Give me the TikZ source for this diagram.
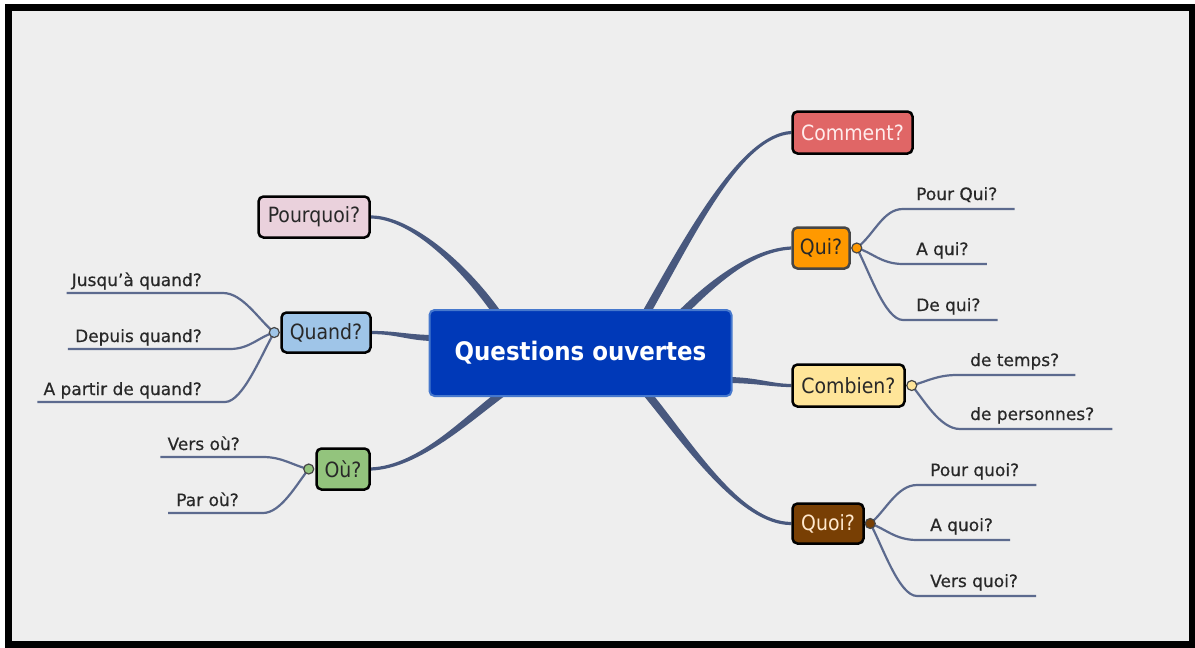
\documentclass[tikz,border=0pt]{standalone}
\usepackage{fontspec}
\setmainfont{DejaVu Sans}
\newfontfamily\condfont{DejaVu Sans Condensed}
\newfontfamily\subfont[FakeBold=0.5,Ligatures=TeX]{DejaVu Sans}
\usetikzlibrary{calc,backgrounds}
\pgfdeclarelayer{frame}
\pgfsetlayers{frame,background,main}
\definecolor{bgc}{RGB}{238,238,238}
\definecolor{branchc}{RGB}{72,88,126}
\definecolor{subc}{RGB}{92,106,142}
\definecolor{centerc}{RGB}{0,57,184}
\definecolor{centerb}{RGB}{70,120,205}
\definecolor{commentc}{RGB}{224,102,102}
\definecolor{commentt}{RGB}{255,236,236}
\definecolor{quic}{RGB}{255,153,0}
\definecolor{quib}{RGB}{70,70,70}
\definecolor{combienc}{RGB}{255,229,153}
\definecolor{quoic}{RGB}{120,63,4}
\definecolor{quoit}{RGB}{255,232,205}
\definecolor{pourquoic}{RGB}{234,209,220}
\definecolor{quandc}{RGB}{159,197,232}
\definecolor{ouc}{RGB}{147,196,125}
\definecolor{txtc}{RGB}{40,40,40}
\definecolor{dotb}{RGB}{70,70,70}
\newcommand\mmbranch[6]{%
  \fill[branchc] ($(#1)+(#5)$) .. controls ($(#1)+(#3)+(#5)$) and ($(#2)+(#4)+(#6)$) .. ($(#2)+(#6)$)
    -- ($(#2)-(#6)$) .. controls ($(#2)+(#4)-(#6)$) and ($(#1)+(#3)-(#5)$) .. ($(#1)-(#5)$) -- cycle;}
\begin{document}
\begin{tikzpicture}[x=1pt,y=-1pt,
  box/.style={rectangle, rounded corners=5pt, line width=2.5pt, draw=black, inner sep=0pt,
    text=txtc, font=\condfont\fontsize{21}{25}\selectfont},
  dot/.style={circle, minimum size=10pt, inner sep=0pt, draw=dotb, line width=1.2pt},
  sub/.style={draw=subc, line width=2.2pt},
  sublbl/.style={inner sep=0pt, text=txtc, font=\subfont\fontsize{17}{20}\selectfont}]
\useasboundingbox (0,0) rectangle (1195,648);
\begin{pgfonlayer}{frame}
\fill[white] (0,0) rectangle (1195,648);
\draw[line width=7pt, fill=bgc] (8.5,7.5) rectangle (1192,644.5);
\end{pgfonlayer}

% central and main nodes
\node[box, fill=centerc, draw=centerb, line width=2pt, text=white, minimum width=302pt, minimum height=86pt,
  font=\condfont\bfseries\fontsize{25.5}{30}\selectfont] (c) at (580.5,353) {Questions ouvertes};
\node[box, fill=commentc, text=commentt, minimum width=120pt, minimum height=42pt] (comment) at (852.5,132.5) {Comment?};
\node[box, fill=quic, draw=quib, minimum width=57pt, minimum height=41pt] (qui) at (821,248) {Qui?};
\node[box, fill=combienc, minimum width=112pt, minimum height=42pt] (combien) at (848.5,385.5) {Combien?};
\node[box, fill=quoic, text=quoit, minimum width=71pt, minimum height=40pt] (quoi) at (828,523.5) {Quoi?};
\node[box, fill=pourquoic, minimum width=111pt, minimum height=41pt] (pourquoi) at (314,217) {Pourquoi?};
\node[box, fill=quandc, minimum width=89pt, minimum height=40pt] (quand) at (326,332.5) {Quand?};
\node[box, fill=ouc, minimum width=53pt, minimum height=41pt] (ou) at (343,469) {Où?};

% dots
\node[dot, fill=quic] (quid) at ($(qui.east)+(6,0)$) {};
\node[dot, fill=combienc] (combiend) at ($(combien.east)+(6,0)$) {};
\node[dot, fill=quoic] (quoid) at ($(quoi.east)+(5.5,0)$) {};
\node[dot, fill=quandc] (quandd) at ($(quand.west)+(-6,0)$) {};
\node[dot, fill=ouc] (oud) at ($(ou.west)+(-6.5,0)$) {};

% underline inner ends
\coordinate (qui1) at (903,209);
\coordinate (qui2) at (903,264);
\coordinate (qui3) at (903,320);
\coordinate (com1) at (957,375);
\coordinate (com2) at (960,429);
\coordinate (quo1) at (917,485);
\coordinate (quo2) at (917,540);
\coordinate (quo3) at (917,596);
\coordinate (qua1) at (223,293);
\coordinate (qua2) at (230,349);
\coordinate (qua3) at (225,402);
\coordinate (ou1) at (263,457);
\coordinate (ou2) at (263,513);

% sub labels
\node[sublbl, anchor=base west] (qui1t) at ($(qui1)+(13,-9)$) {Pour Qui?};
\node[sublbl, anchor=base west] (qui2t) at ($(qui2)+(13,-9)$) {A qui?};
\node[sublbl, anchor=base west] (qui3t) at ($(qui3)+(13,-9)$) {De qui?};
\node[sublbl, anchor=base west] (com1t) at ($(com1)+(13,-9)$) {de temps?};
\node[sublbl, anchor=base west] (com2t) at ($(com2)+(10,-9)$) {de personnes?};
\node[sublbl, anchor=base west] (quo1t) at ($(quo1)+(13,-9)$) {Pour quoi?};
\node[sublbl, anchor=base west] (quo2t) at ($(quo2)+(13,-9)$) {A quoi?};
\node[sublbl, anchor=base west] (quo3t) at ($(quo3)+(13,-9)$) {Vers quoi?};
\node[sublbl, anchor=base east] (qua1t) at (202,286) {Jusqu'à quand?};
\node[sublbl, anchor=base east] (qua2t) at (202,342) {Depuis quand?};
\node[sublbl, anchor=base east] (qua3t) at (202,395) {A partir de quand?};
\node[sublbl, anchor=base east] (ou1t) at (240,450) {Vers où?};
\node[sublbl, anchor=base east] (ou2t) at (239,506) {Par où?};

\begin{pgfonlayer}{background}
% main branches (tapered)
\coordinate (s1) at ($(c.north)+(64.5,6)$);
\coordinate (s2) at ($(c.north)+(99.5,6)$);
\coordinate (s3) at ($(c.east)+(-6,27)$);
\coordinate (s4) at ($(c.south)+(64.5,-6)$);
\coordinate (s5) at ($(c.north)+(-82,6)$);
\coordinate (s6) at ($(c.west)+(6,-15)$);
\coordinate (s7) at ($(c.south)+(-75.5,-6)$);
\mmbranch{s1}{comment.west}{45,-79}{-51,3}{-3.5,-2}{0,-1.6}
\mmbranch{s2}{qui.west}{32,-32}{-40,2}{-2.8,-2.8}{0,-1.6}
\mmbranch{s3}{combien.west}{30,0}{-20,0}{0,-3}{0,-1.6}
\mmbranch{s4}{quoi.west}{45,55}{-51,0}{3.1,-2.5}{0,-1.6}
\mmbranch{s5}{pourquoi.east}{-35,-50}{40,0}{3.1,-2.5}{0,-1.6}
\mmbranch{s6}{quand.east}{-25,0}{25,0}{0,-3}{0,-1.6}
\mmbranch{s7}{ou.east}{-35,25}{50,-2}{-2.8,-2.8}{0,-1.6}

% sub branches
\draw[sub] (quid.center) .. controls +(18,-14) and +(-20,0) .. (qui1) -- ($(qui1t.east |- qui1)+(17,0)$);
\draw[sub] (quid.center) .. controls +(15,4) and +(-22,0) .. (qui2) -- ($(qui2t.east |- qui2)+(18,0)$);
\draw[sub] (quid.center) .. controls +(12,22) and +(-18,0) .. (qui3) -- ($(qui3t.east |- qui3)+(17,0)$);
\draw[sub] (combiend.center) .. controls +(15,-4) and +(-20,0) .. (com1) -- ($(com1t.east |- com1)+(16,0)$);
\draw[sub] (combiend.center) .. controls +(12,14) and +(-20,0) .. (com2) -- ($(com2t.east |- com2)+(18,0)$);
\draw[sub] (quoid.center) .. controls +(15,-12) and +(-20,0) .. (quo1) -- ($(quo1t.east |- quo1)+(17,0)$);
\draw[sub] (quoid.center) .. controls +(15,5) and +(-22,0) .. (quo2) -- ($(quo2t.east |- quo2)+(17,0)$);
\draw[sub] (quoid.center) .. controls +(12,22) and +(-18,0) .. (quo3) -- ($(quo3t.east |- quo3)+(18,0)$);
\draw[sub] (quandd.center) .. controls +(-15,-12) and +(20,0) .. (qua1) -- ($(qua1t.west |- qua1)+(-5,0)$);
\draw[sub] (quandd.center) .. controls +(-15,4) and +(20,0) .. (qua2) -- ($(qua2t.west |- qua2)+(-7,0)$);
\draw[sub] (quandd.center) .. controls +(-12,20) and +(18,0) .. (qua3) -- ($(qua3t.west |- qua3)+(-6,0)$);
\draw[sub] (oud.center) .. controls +(-15,-3) and +(20,0) .. (ou1) -- ($(ou1t.west |- ou1)+(-7,0)$);
\draw[sub] (oud.center) .. controls +(-12,15) and +(18,0) .. (ou2) -- ($(ou2t.west |- ou2)+(-8,0)$);
\end{pgfonlayer}
\end{tikzpicture}
\end{document}
